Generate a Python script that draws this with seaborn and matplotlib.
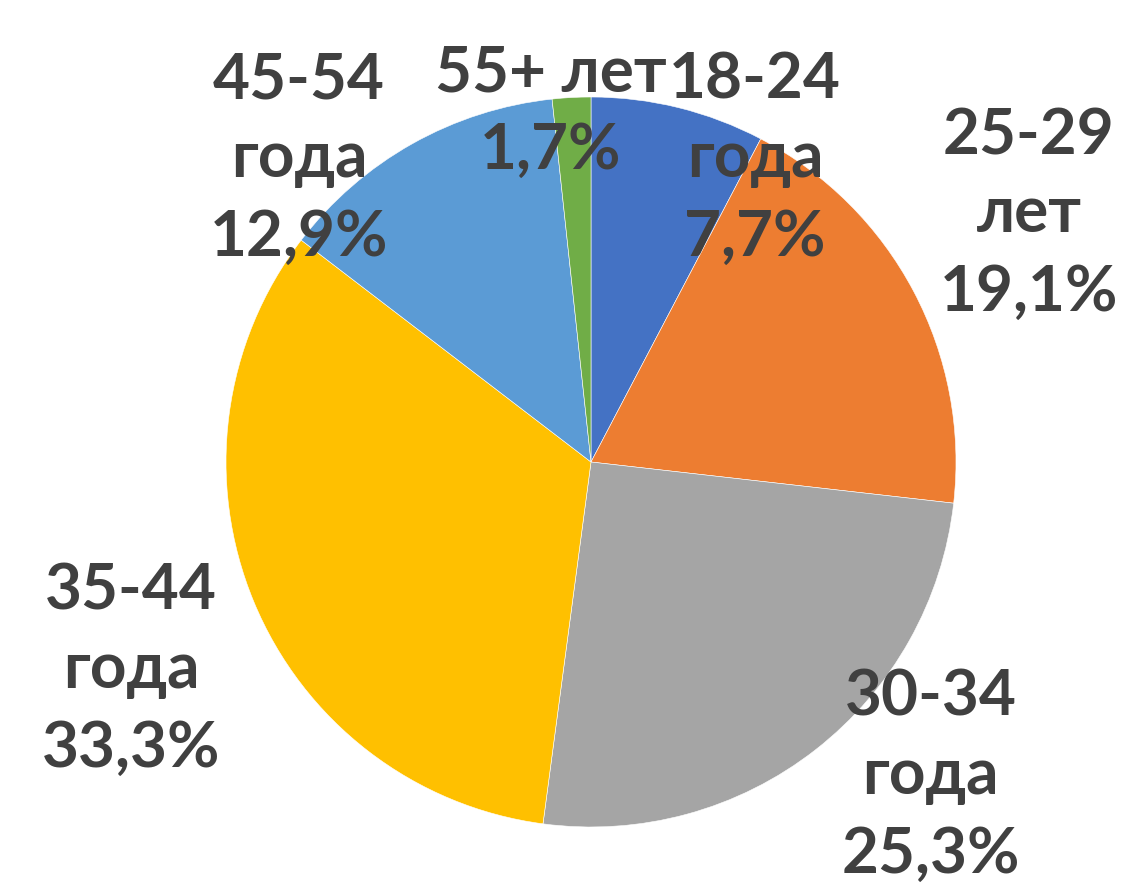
"""
Pie chart: distribution by age group (share, %).
Output: out.png
"""

import matplotlib
matplotlib.use('Agg')
import matplotlib.pyplot as plt
import seaborn as sns

# Data
age_groups = ['18-24\nгода', '25-29\nлет', '30-34\nгода', '35-44\nгода', '45-54\nгода', '55+ лет']
shares = [7.7, 19.1, 25.3, 33.3, 12.9, 1.7]
colors = ['#4472C4', '#ED7D31', '#A5A5A5', '#FFC000', '#5B9BD5', '#70AD47']

# Label anchor points (in pie-radius units, like Excel "best fit")
label_pos = [(0.45, 0.83), (1.20, 0.68), (0.93, -0.86),
             (-1.26, -0.57), (-0.80, 0.83), (-0.11, 0.96)]

sns.set_theme(style="white")
plt.rcParams['font.family'] = ['Lato', 'DejaVu Sans']

fig = plt.figure(figsize=(11.32, 8.92), dpi=100)
ax = fig.add_axes([0, 0, 1, 1])

ax.pie(shares, colors=colors, startangle=90, counterclock=False,
       radius=1.0, center=(0, 0),
       wedgeprops={'linewidth': 0.4, 'edgecolor': 'white'})

for name, val, (x, y) in zip(age_groups, shares, label_pos):
    txt = f"{name}\n{val:.1f}%".replace('.', ',')
    ax.text(x, y, txt, ha='center', va='center', multialignment='center',
            fontsize=46, fontweight='bold', color='#404040',
            linespacing=1.45, zorder=5)

ax.set_xlim(-591 / 365, (1132 - 591) / 365)
ax.set_ylim(-(892 - 462) / 365, 462 / 365)
ax.set_aspect('equal')
ax.axis('off')

fig.savefig('out.png', dpi=100, facecolor='white')
plt.close(fig)
